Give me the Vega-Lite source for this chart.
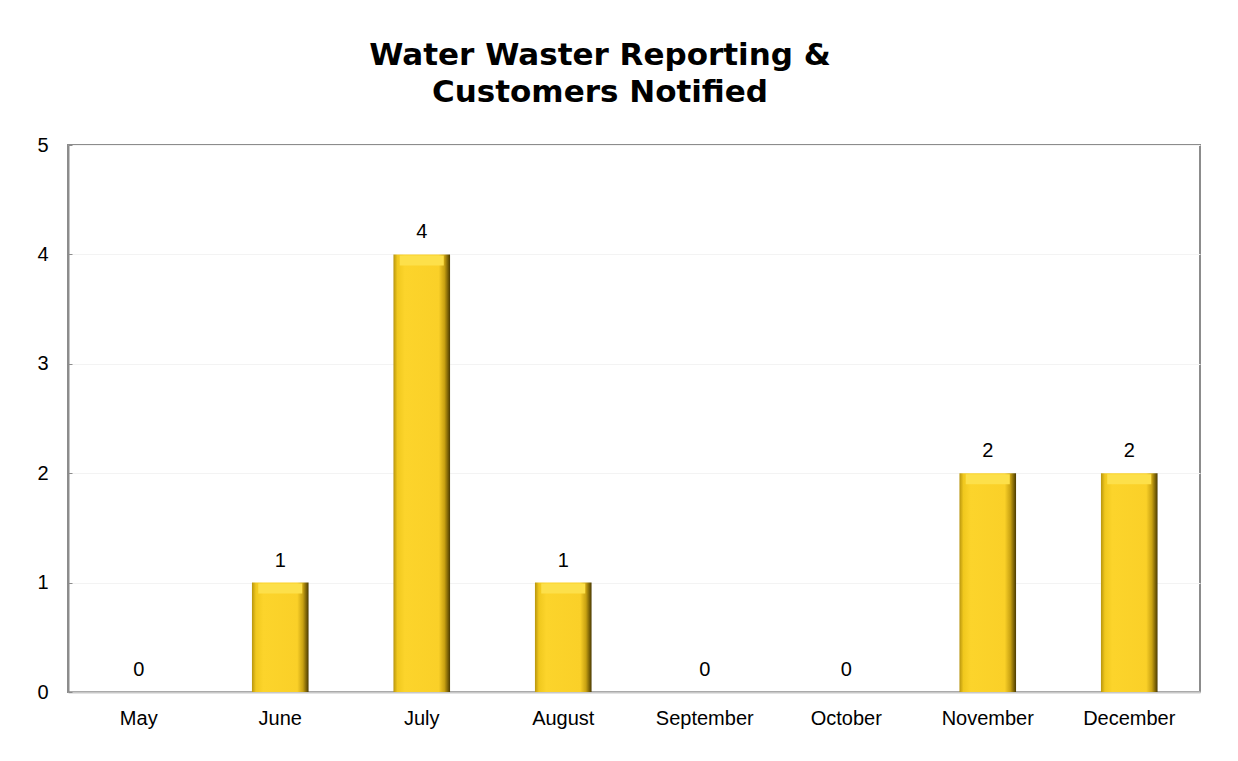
{
  "$schema": "https://vega.github.io/schema/vega-lite/v6.json",
  "autosize": {"type": "none"},
  "width": 1132,
  "height": 547,
  "padding": {"left": 68, "top": 145, "right": 38, "bottom": 69},
  "background": "white",
  "title": {
    "text": ["Water Waster Reporting &", "Customers Notified"],
    "font": "DejaVu Sans",
    "fontSize": 31,
    "fontWeight": "bold",
    "color": "#000000",
    "anchor": "middle",
    "dx": -34,
    "offset": 26,
    "lineHeight": 37
  },
  "data": {
    "values": [
      {"month": "May", "count": 0},
      {"month": "June", "count": 1},
      {"month": "July", "count": 4},
      {"month": "August", "count": 1},
      {"month": "September", "count": 0},
      {"month": "October", "count": 0},
      {"month": "November", "count": 2},
      {"month": "December", "count": 2}
    ]
  },
  "encoding": {
    "x": {
      "field": "month",
      "type": "nominal",
      "sort": null,
      "scale": {"paddingInner": 0.6, "paddingOuter": 0.3},
      "axis": {
        "title": null,
        "labelAngle": 0,
        "labelFont": "Liberation Sans",
        "labelFontSize": 20,
        "labelColor": "#000000",
        "labelPadding": 16,
        "ticks": false,
        "domainColor": "#c8c8c8",
        "domainWidth": 2,
        "grid": false
      }
    },
    "y": {
      "field": "count",
      "type": "quantitative",
      "scale": {"domain": [0, 5], "nice": false},
      "axis": {
        "title": null,
        "values": [0, 1, 2, 3, 4, 5],
        "labelFont": "Liberation Sans",
        "labelFontSize": 20,
        "labelColor": "#000000",
        "labelPadding": 24,
        "tickSize": -4,
        "tickColor": "#8c8c8c",
        "domainColor": "#8c8c8c",
        "domainWidth": 2,
        "grid": true,
        "gridColor": "#f3f3f3",
        "gridWidth": 1
      }
    }
  },
  "layer": [
    {
      "mark": {
        "type": "bar",
        "color": {
          "gradient": "linear",
          "x1": 0, "x2": 1, "y1": 0, "y2": 0,
          "stops": [
            {"offset": 0, "color": "#b8950e"},
            {"offset": 0.07, "color": "#f0c81e"},
            {"offset": 0.2, "color": "#fcd42b"},
            {"offset": 0.8, "color": "#fad028"},
            {"offset": 0.9, "color": "#c9a212"},
            {"offset": 1, "color": "#4a3a00"}
          ]
        },
        "strokeWidth": 0
      }
    },
    {
      "transform": [{"filter": "datum.count > 0"}],
      "mark": {
        "type": "tick",
        "orient": "horizontal",
        "size": 44,
        "thickness": 10,
        "yOffset": 6,
        "color": "#fde04a",
        "opacity": 1
      }
    },
    {
      "mark": {
        "type": "text",
        "dy": -22,
        "font": "Liberation Sans",
        "fontSize": 20,
        "color": "#000000",
        "baseline": "middle"
      },
      "encoding": {
        "text": {"field": "count", "type": "quantitative"}
      }
    }
  ],
  "config": {
    "view": {"stroke": "#8c8c8c", "strokeWidth": 2}
  }
}
